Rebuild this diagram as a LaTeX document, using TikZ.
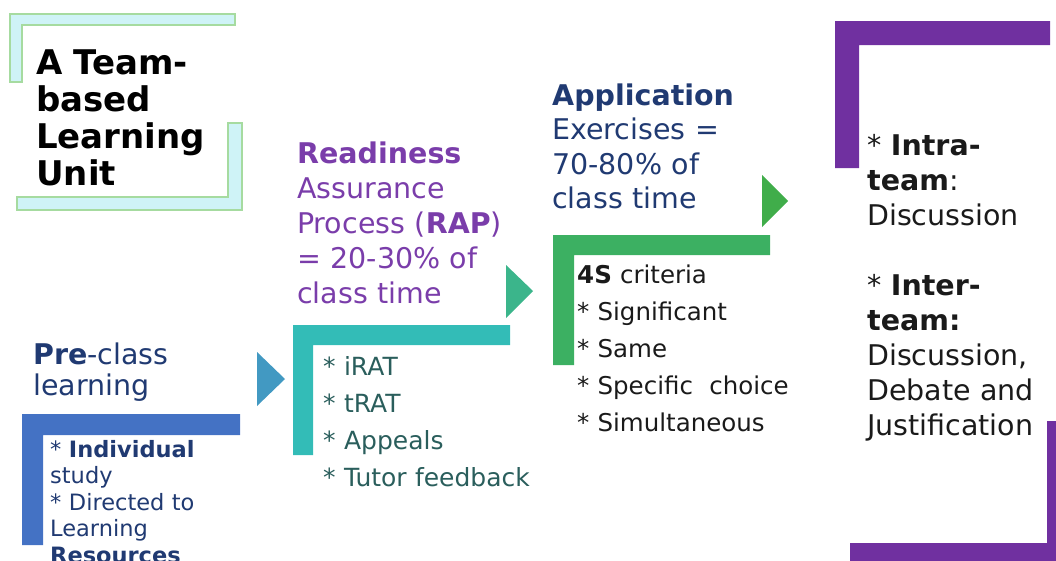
\documentclass[tikz,border=0pt]{standalone}
\usepackage{fontspec}
\setmainfont{DejaVu Sans}
\definecolor{titlefill}{HTML}{CFF3F7}
\definecolor{titleborder}{HTML}{A6DBA0}
\definecolor{preblue}{HTML}{4472C4}
\definecolor{navy}{HTML}{203A72}
\definecolor{rapteal}{HTML}{33BCB7}
\definecolor{rapgreen}{HTML}{3BB58B}
\definecolor{triblue}{HTML}{4299C2}
\definecolor{appgreen}{HTML}{3CB062}
\definecolor{trigreen}{HTML}{40AD4A}
\definecolor{tblpurple}{HTML}{7030A0}
\definecolor{txtpurple}{HTML}{7A3DAA}
\definecolor{tealtext}{HTML}{2A5E5C}
\definecolor{darktext}{HTML}{1A1A1A}
\tikzset{
  txt/.style={anchor=base west, inner sep=0pt, text width=320pt, align=left},
}
\begin{document}
\begin{tikzpicture}[x=1pt,y=-1pt]
\useasboundingbox (0,0) rectangle (1056,560);
\clip (0,0) rectangle (1056,560);
% title brackets
\draw[fill=titlefill, draw=titleborder, line width=1.2pt]
  (10,14) -- (235,14) -- (235,25) -- (22,25) -- (22,82) -- (10,82) -- cycle;
\draw[fill=titlefill, draw=titleborder, line width=1.2pt]
  (228,123) -- (242,123) -- (242,210) -- (17,210) -- (17,197) -- (228,197) -- cycle;
% stage brackets
\fill[preblue] (22,414) -- (240,414) -- (240,435) -- (43,435) -- (43,545) -- (22,545) -- cycle;
\fill[rapteal] (293,325) -- (510,325) -- (510,345) -- (313,345) -- (313,455) -- (293,455) -- cycle;
\fill[appgreen] (553,235) -- (770,235) -- (770,255) -- (574,255) -- (574,365) -- (553,365) -- cycle;
\fill[tblpurple] (835,21) -- (1050,21) -- (1050,45) -- (859,45) -- (859,168) -- (835,168) -- cycle;
\fill[tblpurple] (1047,421) -- (1071,421) -- (1071,567) -- (850,567) -- (850,543) -- (1047,543) -- cycle;
% triangles
\fill[triblue] (257,352) -- (285,379) -- (257,406) -- cycle;
\fill[rapgreen] (506,265) -- (533,291) -- (506,318) -- cycle;
\fill[trigreen] (762,175) -- (788,201) -- (762,227) -- cycle;
% texts
\node[txt, font={\fontsize{34}{37}\selectfont\bfseries}, text=black] (title) at (36,74)
  {A Team-\\based\\Learning\\Unit};
\node[txt, font={\fontsize{28.5}{31}\selectfont}, text=navy] (pre) at (33,364)
  {\textbf{Pre}-class\\learning};
\node[txt, font={\fontsize{22.5}{26.5}\selectfont}, text=navy] (preitems) at (50,457)
  {* \textbf{Individual}\\study\\{}* Directed to\\Learning\\\textbf{Resources}};
\node[txt, font={\fontsize{28.5}{35}\selectfont}, text=txtpurple] (rap) at (297,163)
  {\textbf{Readiness}\\Assurance\\Process (\textbf{RAP})\\= 20-30\% of\\class time};
\node[txt, font={\fontsize{25}{37}\selectfont}, text=tealtext] (rapitems) at (323,375)
  {* iRAT\\{}* tRAT\\{}* Appeals\\{}* Tutor feedback};
\node[txt, font={\fontsize{28.5}{34.5}\selectfont}, text=navy] (app) at (552,105)
  {\textbf{Application}\\Exercises =\\70-80\% of\\class time};
\node[txt, font={\fontsize{24.5}{37}\selectfont}, text=darktext] (appitems) at (577,283)
  {\textbf{4S} criteria\\{}* Significant\\{}* Same\\{}* Specific\ \ choice\\{}* Simultaneous};
\node[txt, font={\fontsize{28.5}{35}\selectfont}, text=darktext] (team) at (867,155)
  {* \textbf{Intra-}\\\textbf{team}:\\Discussion\\[35pt]{}* \textbf{Inter-}\\\textbf{team:}\\Discussion,\\Debate and\\Justification};
\end{tikzpicture}
\end{document}
